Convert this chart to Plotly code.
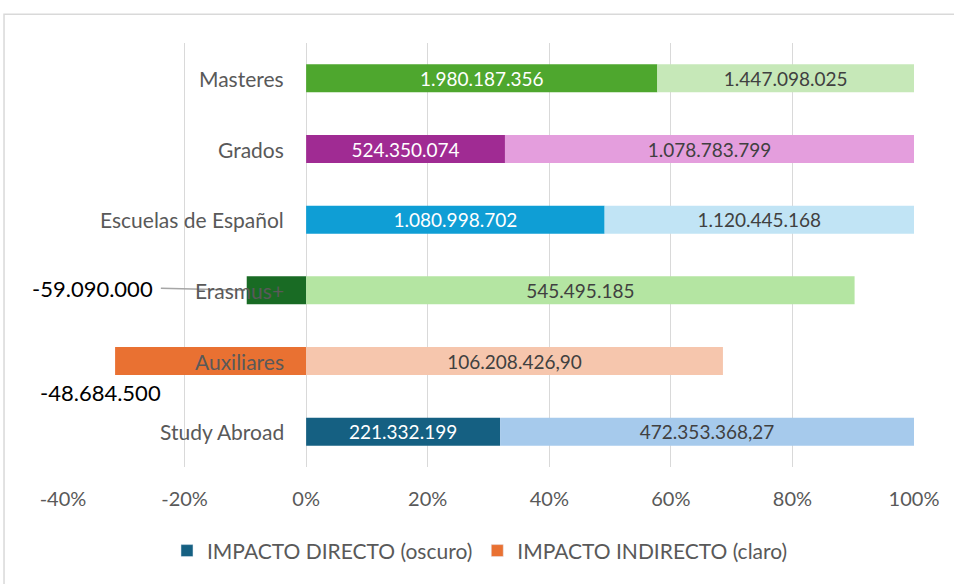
import plotly.graph_objects as go

# Data (top to bottom as shown)
categorias = ["Masteres", "Grados", "Escuelas de Español", "Erasmus+", "Auxiliares", "Study Abroad"]
directo = [1980187356, 524350074, 1080998702, -59090000, -48684500, 221332199]
indirecto = [1447098025, 1078783799, 1120445168, 545495185, 106208426.90, 472353368.27]
etiq_directo = ["1.980.187.356", "524.350.074", "1.080.998.702", "-59.090.000", "-48.684.500", "221.332.199"]
etiq_indirecto = ["1.447.098.025", "1.078.783.799", "1.120.445.168", "545.495.185", "106.208.426,90", "472.353.368,27"]
ticks = [-0.4, -0.2, 0, 0.2, 0.4, 0.6, 0.8, 1.0]

# colours per category (dark = directo, light = indirecto)
oscuros = ["#4EA72E", "#A02B93", "#0F9ED5", "#196B24", "#E97132", "#156082"]
claros = ["#C6E8B8", "#E49EDD", "#C1E4F5", "#B4E5A2", "#F6C6AD", "#A6CAEC"]

FONT = "Lato"
GRIS = "#595959"

# 100% stacked: share over the sum of absolute values (as Excel does)
tot = [abs(d) + abs(i) for d, i in zip(directo, indirecto)]
pct_dir = [d / t for d, t in zip(directo, tot)]
pct_ind = [i / t for i, t in zip(indirecto, tot)]

# negative direct labels are placed outside by hand (see annotations)
txt_dir = [e if d > 0 else "" for e, d in zip(etiq_directo, directo)]

fig = go.Figure()
fig.add_trace(go.Bar(
    y=categorias, x=pct_dir, orientation="h",
    marker=dict(color=oscuros, line=dict(width=0)),
    text=txt_dir, textposition="inside", insidetextanchor="middle",
    textangle=0, constraintext="none",
    textfont=dict(family=FONT, size=19, color="white"),
    showlegend=False, hoverinfo="skip",
))
fig.add_trace(go.Bar(
    y=categorias, x=pct_ind, orientation="h",
    marker=dict(color=claros, line=dict(width=0)),
    text=etiq_indirecto, textposition="inside", insidetextanchor="middle",
    textangle=0, constraintext="none",
    textfont=dict(family=FONT, size=19, color="#404040"),
    showlegend=False, hoverinfo="skip",
))

# legend entries
fig.add_trace(go.Bar(y=[None], x=[None], orientation="h", name="IMPACTO DIRECTO (oscuro)",
                     marker_color="#156082"))
fig.add_trace(go.Bar(y=[None], x=[None], orientation="h", name="IMPACTO INDIRECTO (claro)",
                     marker_color="#E97132"))

annotations = []
for c in categorias:
    annotations.append(dict(
        x=0, y=c, xref="x", yref="y", text=c, showarrow=False,
        xanchor="right", yanchor="middle", xshift=-20,
        font=dict(family=FONT, size=21, color=GRIS),
    ))

# outside labels for the negative bars
i_era = categorias.index("Erasmus+")
i_aux = categorias.index("Auxiliares")
annotations.append(dict(
    x=0.108, y=i_era - 0.03, xref="paper", yref="y", text=etiq_directo[i_era],
    showarrow=False, xanchor="right", yanchor="middle",
    font=dict(family=FONT, size=22, color="black"),
))
annotations.append(dict(
    x=0.1175, y=i_aux + 0.45, xref="paper", yref="y", text=etiq_directo[i_aux],
    showarrow=False, xanchor="right", yanchor="middle",
    font=dict(family=FONT, size=22, color="black"),
))

shapes = [
    # leader line
    dict(type="line", xref="paper", yref="y", x0=0.115, y0=i_era - 0.03,
         x1=0.214, y1=i_era, line=dict(color="#A6A6A6", width=1.5)),
    # chart border
    dict(type="rect", xref="paper", yref="paper", x0=-0.0693, y0=-0.35,
         x1=1.08, y1=1.068, line=dict(color="#D9D9D9", width=1.5), layer="below"),
]

fig.update_layout(
    width=954, height=584,
    margin=dict(l=63, r=40, t=43, b=117),
    paper_bgcolor="white", plot_bgcolor="white",
    barmode="relative", bargap=0.604,
    font=dict(family=FONT, size=18, color=GRIS),
    xaxis=dict(
        range=[-0.4, 1.0], tickvals=ticks, ticktext=[f"{v:.0%}" for v in ticks],
        showgrid=True, gridcolor="#D9D9D9", gridwidth=1,
        zeroline=True, zerolinecolor="#D9D9D9", zerolinewidth=1,
        showline=False, ticks="", ticklabelstandoff=18,
        tickfont=dict(family=FONT, size=20, color=GRIS), fixedrange=True,
    ),
    yaxis=dict(
        categoryorder="array", categoryarray=categorias, autorange="reversed",
        showticklabels=False, showgrid=False, zeroline=False, ticks="",
    ),
    legend=dict(
        orientation="h", x=0.49, xanchor="center", y=-0.198, yanchor="middle",
        font=dict(family=FONT, size=21, color=GRIS), itemwidth=30,
        traceorder="normal",
    ),
    annotations=annotations,
    shapes=shapes,
)

# drop the default page margin so the figure sits at the window origin
fig.write_html("out.html", config={"displayModeBar": False},
               post_script="document.body.style.margin='0';")
